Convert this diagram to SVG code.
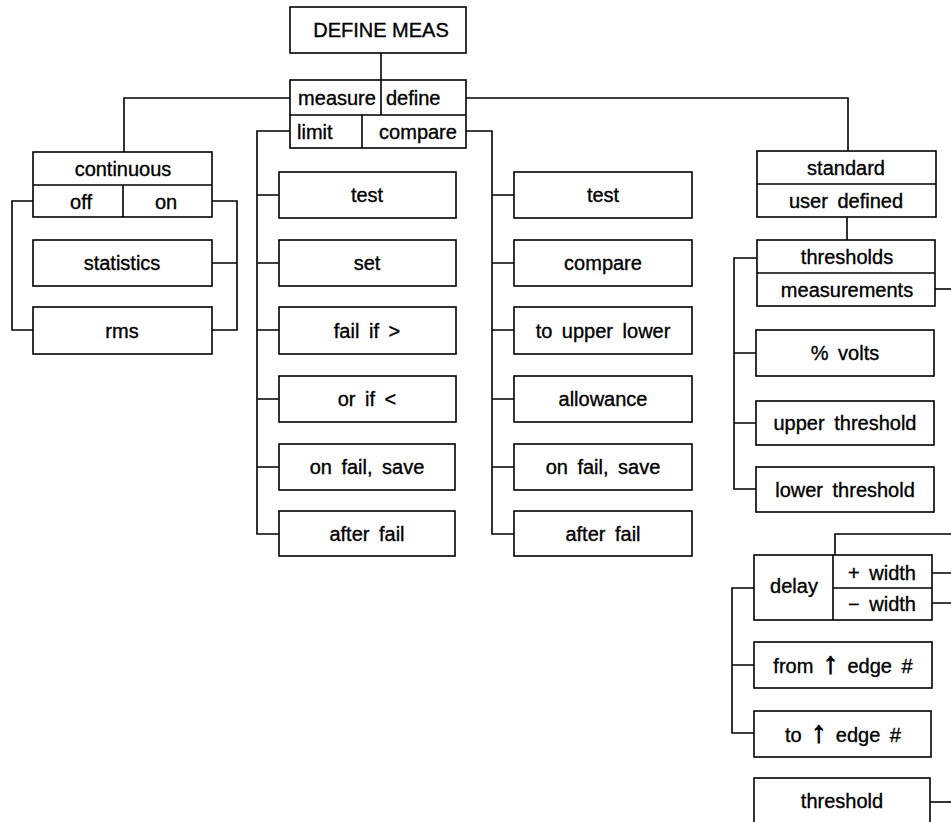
<svg xmlns="http://www.w3.org/2000/svg" width="951" height="822" viewBox="0 0 951 822">
<style>
rect, .div { fill: none; stroke: #000; stroke-width: 1.6; }
rect { fill: #fff; }
.c { fill: none; stroke: #000; stroke-width: 1.6; }
text { font-family: "Liberation Sans", Arial, sans-serif; font-size: 20px; fill: #000; stroke: #000; stroke-width: 0.35; text-anchor: middle; word-spacing: 4px; }
.l { text-anchor: start; }
.big { font-size: 20px; word-spacing: 0; }
.arr { font-family: "Liberation Sans", sans-serif; font-size: 30px; stroke-width: 1; }
</style>
<rect x="0" y="0" width="951" height="822" style="fill:#fff;stroke:none"/>
<g id="connectors">
  <path class="c" d="M381,53 V80"/>
  <path class="c" d="M290,98 H124 V152"/>
  <path class="c" d="M466,98 H848 V151"/>
  <path class="c" d="M34,201 H12 V330 H33"/>
  <path class="c" d="M212,201 H237 V330 H212 M237,263 H212"/>
  <path class="c" d="M290,131 H257 V534 H279 M257,195 H279 M257,263 H279 M257,330 H279 M257,399 H279 M257,467 H279"/>
  <path class="c" d="M466,131 H492 V534 H514 M492,195 H514 M492,263 H514 M492,330 H514 M492,399 H514 M492,467 H514"/>
  <path class="c" d="M847,217 V240"/>
  <path class="c" d="M757,258 H734 V489 H756 M734,353 H756 M734,423 H756"/>
  <path class="c" d="M935,289 H951"/>
  <path class="c" d="M951,534 H835 V555"/>
  <path class="c" d="M932,573 H951 M932,603 H951"/>
  <path class="c" d="M754,588 H732 V733 H754 M732,665 H754"/>
  <path class="c" d="M930,802 H951"/>
</g>
<g id="define-meas">
  <rect x="290" y="7" width="176" height="46"/>
  <text class="big" x="381" y="37">DEFINE MEAS</text>
</g>
<g id="main-menu">
  <rect x="290" y="80" width="176" height="68"/>
  <path class="div" d="M290,115 H466 M381,80 V115 M362,115 V148"/>
  <text x="337" y="105">measure</text>
  <text class="l" x="386" y="105">define</text>
  <text class="l" x="297" y="139">limit</text>
  <text x="418" y="139">compare</text>
</g>
<g id="continuous">
  <rect x="33" y="152" width="179" height="65"/>
  <path class="div" d="M33,185 H212 M123,185 V217"/>
  <text x="123" y="176">continuous</text>
  <text x="81" y="209">off</text>
  <text x="166" y="209">on</text>
</g>
<g id="statistics"><rect x="33" y="240" width="179" height="46"/><text x="122" y="270">statistics</text></g>
<g id="rms"><rect x="33" y="307" width="179" height="47"/><text x="122" y="338">rms</text></g>
<g id="limit-test"><rect x="279" y="172" width="177" height="46"/><text x="367" y="202">test</text></g>
<g id="limit-set"><rect x="279" y="240" width="177" height="46"/><text x="367" y="270">set</text></g>
<g id="limit-failif"><rect x="279" y="307" width="177" height="47"/><text x="367" y="338">fail if &gt;</text></g>
<g id="limit-orif"><rect x="279" y="376" width="177" height="46"/><text x="367" y="406">or if &lt;</text></g>
<g id="limit-onfail"><rect x="279" y="444" width="176" height="46"/><text x="367" y="474">on fail, save</text></g>
<g id="limit-afterfail"><rect x="279" y="511" width="176" height="45"/><text x="367" y="541">after fail</text></g>
<g id="cmp-test"><rect x="514" y="172" width="178" height="46"/><text x="603" y="202">test</text></g>
<g id="cmp-compare"><rect x="514" y="240" width="178" height="46"/><text x="603" y="270">compare</text></g>
<g id="cmp-toupper"><rect x="514" y="307" width="178" height="47"/><text x="603" y="338">to upper lower</text></g>
<g id="cmp-allowance"><rect x="514" y="376" width="178" height="46"/><text x="603" y="406">allowance</text></g>
<g id="cmp-onfail"><rect x="514" y="444" width="178" height="46"/><text x="603" y="474">on fail, save</text></g>
<g id="cmp-afterfail"><rect x="514" y="511" width="178" height="45"/><text x="603" y="541">after fail</text></g>
<g id="standard">
  <rect x="757" y="151" width="179" height="66"/>
  <path class="div" d="M757,184 H936"/>
  <text x="846" y="175">standard</text>
  <text x="846" y="208">user defined</text>
</g>
<g id="thresholds">
  <rect x="757" y="240" width="178" height="66"/>
  <path class="div" d="M757,273 H935"/>
  <text x="847" y="264">thresholds</text>
  <text x="847" y="297">measurements</text>
</g>
<g id="pct-volts"><rect x="756" y="330" width="178" height="46"/><text x="845" y="360">% volts</text></g>
<g id="upper-threshold"><rect x="756" y="401" width="178" height="44"/><text x="845" y="430">upper threshold</text></g>
<g id="lower-threshold"><rect x="756" y="467" width="178" height="45"/><text x="845" y="497">lower threshold</text></g>
<g id="delay">
  <rect x="754" y="555" width="178" height="65"/>
  <path class="div" d="M833,555 V620 M833,588 H932"/>
  <text x="794" y="593">delay</text>
  <text x="882" y="580">+ width</text>
  <text x="882" y="611">− width</text>
</g>
<g id="from-edge"><rect x="754" y="642" width="178" height="46"/><text x="843" y="673">from <tspan class="arr">↑</tspan> edge #</text></g>
<g id="to-edge"><rect x="754" y="711" width="177" height="46"/><text x="843" y="742">to <tspan class="arr">↑</tspan> edge #</text></g>
<g id="threshold"><rect x="754" y="778" width="176" height="60"/><text x="842" y="808">threshold</text></g>
</svg>
